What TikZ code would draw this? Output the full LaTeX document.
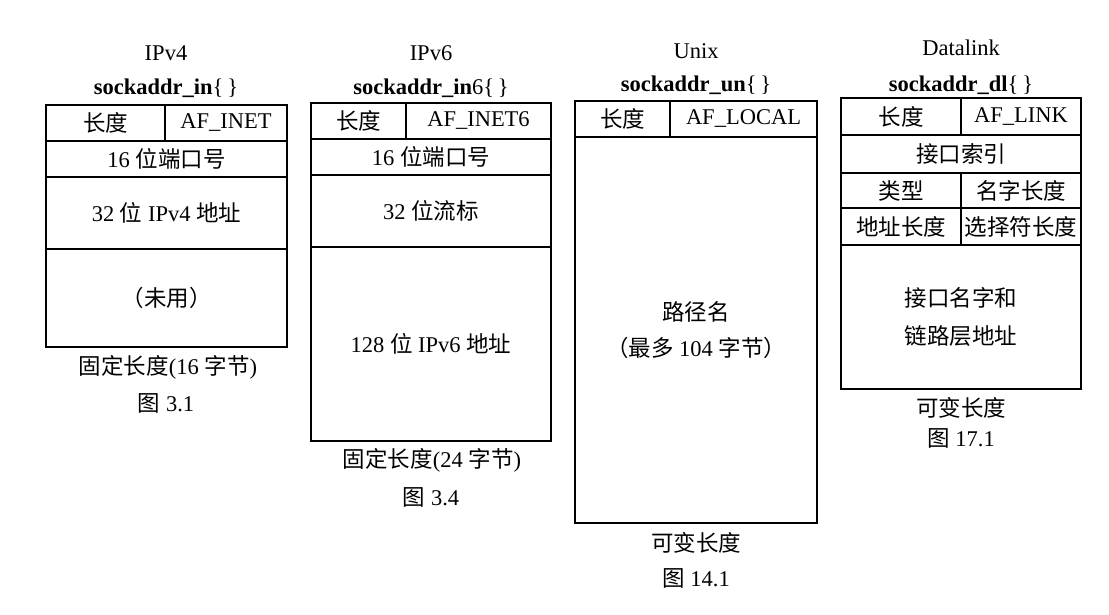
\documentclass[tikz,border=0pt]{standalone}
\usepackage{fontspec}
\setmainfont{Liberation Serif}
\newfontfamily\cjkfont{Noto Sans CJK SC}
\newcommand\zh[1]{{\cjkfont #1}}
\newcommand\cellbox[6]{\node[cell, minimum width={(#4-#2)*1pt}, minimum height={(#5-#3)*1pt}] (#1) at ({(#2+#4)/2},{(#3+#5)/2}) {#6};}
\begin{document}
\begin{tikzpicture}[x=1pt,y=-1pt,
  every node/.style={font=\fontsize{22.5}{26}\selectfont, inner sep=0pt},
  cell/.style={draw, line width=1.3pt, align=center},
  twoline/.style={font=\fontsize{22.5}{36}\selectfont}]
\fill[white] (0,0) rectangle (1109,615);
\path[use as bounding box] (0,0) rectangle (1109,615);

% ---------- IPv4 ----------
\node (t1) at (166,53) {IPv4};
\node (s1) at (166,88) {\textbf{sockaddr\_in}\{\,\}};
\cellbox{a11}{46}{105}{165}{141}{\zh{长度}}
\cellbox{a12}{165}{105}{287}{141}{AF\_INET}
\cellbox{a2}{46}{141}{287}{177}{16 \zh{位端口号}}
\cellbox{a3}{46}{177}{287}{249}{32 \zh{位} IPv4 \zh{地址}}
\cellbox{a4}{46}{249}{287}{347}{\zh{（未用）}}
\node (c1) at (168,367) {\zh{固定长度}(16 \zh{字节})};
\node (f1) at (166,403) {\zh{图} 3.1};

% ---------- IPv6 ----------
\node (t2) at (431,53) {IPv6};
\node (s2) at (431,88) {\textbf{sockaddr\_in}6\{\,\}};
\cellbox{b11}{311}{103}{406}{139}{\zh{长度}}
\cellbox{b12}{406}{103}{551}{139}{AF\_INET6}
\cellbox{b2}{311}{139}{551}{175}{16 \zh{位端口号}}
\cellbox{b3}{311}{175}{551}{247}{32 \zh{位流标}}
\cellbox{b4}{311}{247}{551}{441}{128 \zh{位} IPv6 \zh{地址}}
\node (c2) at (432,460) {\zh{固定长度}(24 \zh{字节})};
\node (f2) at (431,497) {\zh{图} 3.4};

% ---------- Unix ----------
\node (t3) at (696,51) {Unix};
\node (s3) at (696,85) {\textbf{sockaddr\_un}\{\,\}};
\cellbox{u11}{575}{101}{670}{137}{\zh{长度}}
\cellbox{u12}{670}{101}{817}{137}{AF\_LOCAL}
\node[cell, twoline, minimum width=242pt, minimum height=386pt] (u2) at (696,330)
  {\zh{路径名}\\\zh{（最多} 104 \zh{字节）}};
\node (c3) at (696,543) {\zh{可变长度}};
\node (f3) at (696,578) {\zh{图} 14.1};

% ---------- Datalink ----------
\node (t4) at (961,48) {Datalink};
\node (s4) at (961,85) {\textbf{sockaddr\_dl}\{\,\}};
\cellbox{d11}{841}{98}{961}{135}{\zh{长度}}
\cellbox{d12}{961}{98}{1081}{135}{AF\_LINK}
\cellbox{d2}{841}{135}{1081}{173}{\zh{接口索引}}
\cellbox{d31}{841}{173}{961}{208}{\zh{类型}}
\cellbox{d32}{961}{173}{1081}{208}{\zh{名字长度}}
\cellbox{d41}{841}{208}{961}{245}{\zh{地址长度}}
\cellbox{d42}{961}{208}{1081}{245}{\zh{选择符长度}}
\node[cell, font=\fontsize{22.5}{38}\selectfont, minimum width=240pt, minimum height=144pt] (d5) at (961,317)
  {\zh{接口名字和}\\\zh{链路层地址}};
\node (c4) at (961,408) {\zh{可变长度}};
\node (f4) at (961,438) {\zh{图} 17.1};
\end{tikzpicture}
\end{document}
